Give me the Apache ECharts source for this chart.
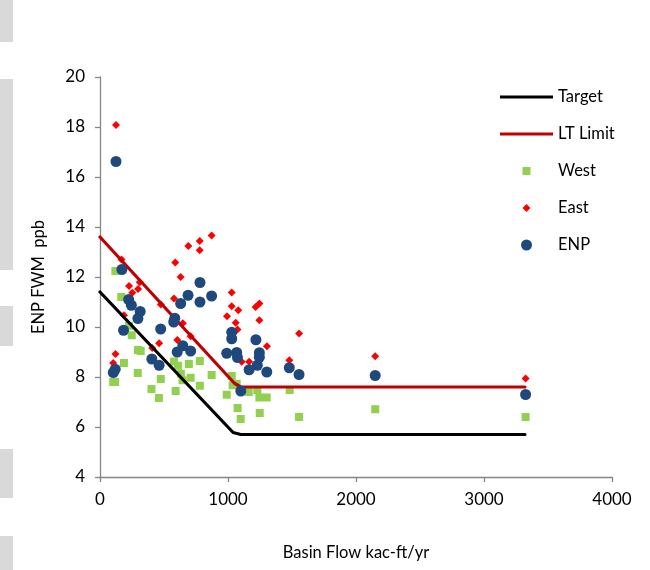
<!DOCTYPE html>
<html>
<head>
<meta charset="utf-8">
<script src="https://cdn.jsdelivr.net/npm/echarts@6/dist/echarts.min.js"></script>
<style>
  html, body { margin: 0; padding: 0; background: #fff; }
  #chart { width: 650px; height: 570px; }
</style>
</head>
<body>
<div id="chart"></div>
<script>
// Basin flow (kac-ft/yr) vs ENP flow-weighted mean phosphorus (ppb)
const targetLine = [[0, 11.4], [1040, 5.78], [1100, 5.7], [3320, 5.7]];
const ltLimitLine = [[0, 13.6], [1050, 7.75], [1100, 7.6], [3320, 7.6]];

const westPoints = [
  [120, 12.24], [166, 11.2], [227, 10.05], [248, 9.67], [297, 9.08], [318, 9.04],
  [187, 8.56], [295, 8.16], [103, 7.8], [118, 7.8], [402, 7.52], [475, 7.92],
  [460, 7.16], [578, 8.62], [609, 8.45], [694, 8.52], [780, 8.64], [632, 8.13],
  [708, 7.97], [645, 7.87], [780, 7.65], [591, 7.44], [872, 8.08], [1029, 8.04],
  [1036, 7.67], [1068, 7.73], [990, 7.29], [1162, 7.4], [1229, 7.48], [1245, 7.18],
  [1302, 7.18], [1075, 6.76], [1248, 6.56], [1099, 6.32], [1482, 7.48], [1555, 6.4],
  [2150, 6.71], [3325, 6.4]
];

const eastPoints = [
  [125, 18.08], [168, 12.7], [227, 11.64], [311, 11.79], [298, 11.52], [252, 11.37],
  [187, 10.47], [121, 8.92], [103, 8.56], [408, 9.16], [462, 9.35], [475, 10.9],
  [578, 11.14], [588, 12.58], [630, 12.0], [647, 10.15], [604, 9.48], [708, 9.63],
  [690, 13.24], [779, 13.44], [779, 13.07], [872, 13.66], [1029, 11.38], [1029, 10.83],
  [1080, 10.67], [992, 10.43], [1060, 10.17], [1074, 9.9], [1245, 10.94], [1216, 10.8],
  [1245, 10.27], [1304, 9.23], [1107, 8.61], [1165, 8.61], [1479, 8.67], [1555, 9.74],
  [2150, 8.83], [3325, 7.94]
];

const enpPoints = [
  [125, 16.62], [171, 12.3], [224, 11.1], [245, 10.87], [314, 10.62], [296, 10.34],
  [184, 9.87], [474, 9.92], [584, 10.35], [576, 10.2], [630, 10.94], [688, 11.27],
  [781, 11.78], [781, 11.0], [872, 11.24], [603, 9.0], [647, 9.25], [708, 9.04],
  [405, 8.72], [462, 8.47], [104, 8.18], [119, 8.31], [1029, 9.79], [1029, 9.53],
  [990, 8.95], [1068, 8.98], [1074, 8.78], [1245, 8.97], [1245, 8.79], [1218, 9.49],
  [1229, 8.47], [1165, 8.29], [1303, 8.2], [1479, 8.37], [1555, 8.1], [1100, 7.44],
  [2150, 8.06], [3325, 7.3]
];

const xTicks = { min: 0, max: 4000, step: 1000 };
const yTicks = { min: 4, max: 20, step: 2 };

const seriesNames = ['Target', 'LT Limit', 'West', 'East', 'ENP'];
const seriesColors = ['#000000', '#C00000', '#92D050', '#FF0000', '#1F497D'];

const FONT = 'Lato';
const chart = echarts.init(document.getElementById('chart'), null, { renderer: 'canvas' });

// One legend box per entry so each icon keeps its own shape and size.
// Marker icons carry zero-length end points so their box spans the full
// 53px line-sample width and the marker sits in the middle of it.
const legendRows = [
  { name: 'Target', cy: 97, icon: 'rect', h: 3 },
  { name: 'LT Limit', cy: 134, icon: 'rect', h: 3 },
  { name: 'West', cy: 171, icon: 'path://M0,0L0,0M53,8L53,8M22.5,0h8v8h-8z', h: 8 },
  { name: 'East', cy: 208, icon: 'path://M0,0L0,0M53,8L53,8M26.5,0L30.5,4L26.5,8L22.5,4Z', h: 8 },
  { name: 'ENP', cy: 245, icon: 'path://M0,0L0,0M53,11L53,11M21,5.5a5.5,5.5 0 1,0 11,0a5.5,5.5 0 1,0 -11,0Z', h: 11 }
];
const legends = legendRows.map(r => ({
  data: [{ name: r.name, icon: r.icon }],
  left: 500,
  top: r.cy - 10,
  padding: 0,
  itemWidth: 53,
  itemHeight: r.h,
  symbolKeepAspect: false,
  selectedMode: false,
  textStyle: { fontFamily: FONT, fontSize: 16.5, color: '#000', lineHeight: 20 }
}));

// light grey strips along the left margin
const strips = [[0, 42], [79, 270], [306, 346], [449, 498], [536, 570]];
const graphics = strips.map(s => ({
  type: 'rect',
  shape: { x: 0, y: s[0], width: 13, height: s[1] - s[0] },
  style: { fill: '#D9D9D9' },
  silent: true
}));

const option = {
  backgroundColor: '#fff',
  animation: false,
  color: seriesColors,
  grid: { left: 100, right: 38, top: 77, bottom: 93, containLabel: false },
  legend: legends,
  graphic: graphics,
  xAxis: {
    type: 'value',
    min: xTicks.min, max: xTicks.max, interval: xTicks.step,
    name: 'Basin Flow kac-ft/yr',
    nameLocation: 'middle',
    nameGap: 67,
    nameTextStyle: { fontFamily: FONT, fontSize: 16.5, color: '#000' },
    axisLine: { show: true, lineStyle: { color: '#868686', width: 1.3 } },
    axisTick: { show: true, inside: false, length: 5, lineStyle: { color: '#868686', width: 1.3 } },
    axisLabel: { fontFamily: FONT, fontSize: 17, color: '#000', margin: 14, formatter: v => String(v) },
    splitLine: { show: false }
  },
  yAxis: {
    type: 'value',
    min: yTicks.min, max: yTicks.max, interval: yTicks.step,
    name: 'ENP FWM  ppb',
    nameLocation: 'middle',
    nameGap: 53,
    nameTextStyle: { fontFamily: FONT, fontSize: 16.5, color: '#000' },
    axisLine: { show: true, lineStyle: { color: '#868686', width: 1.3 } },
    axisTick: { show: true, inside: false, length: 5, lineStyle: { color: '#868686', width: 1.3 } },
    axisLabel: { fontFamily: FONT, fontSize: 17, color: '#000', margin: 15, formatter: v => String(v) },
    splitLine: { show: false }
  },
  series: [
    {
      name: 'Target', type: 'line', data: targetLine, symbol: 'none', z: 3,
      lineStyle: { color: seriesColors[0], width: 3.2, cap: 'round', join: 'round' },
      itemStyle: { color: seriesColors[0] }
    },
    {
      name: 'LT Limit', type: 'line', data: ltLimitLine, symbol: 'none', z: 3,
      lineStyle: { color: seriesColors[1], width: 3.2, cap: 'round', join: 'round' },
      itemStyle: { color: seriesColors[1] }
    },
    {
      name: 'West', type: 'scatter', data: westPoints, symbol: 'rect', symbolSize: 8, z: 2,
      itemStyle: { color: seriesColors[2], opacity: 1 }
    },
    {
      name: 'East', type: 'scatter', data: eastPoints, symbol: 'diamond', symbolSize: 8, z: 2,
      itemStyle: { color: seriesColors[3], opacity: 1 }
    },
    {
      name: 'ENP', type: 'scatter', data: enpPoints, symbol: 'circle', symbolSize: 11, z: 4,
      itemStyle: { color: seriesColors[4], opacity: 1 }
    }
  ]
};

chart.setOption(option);
</script>
</body>
</html>
